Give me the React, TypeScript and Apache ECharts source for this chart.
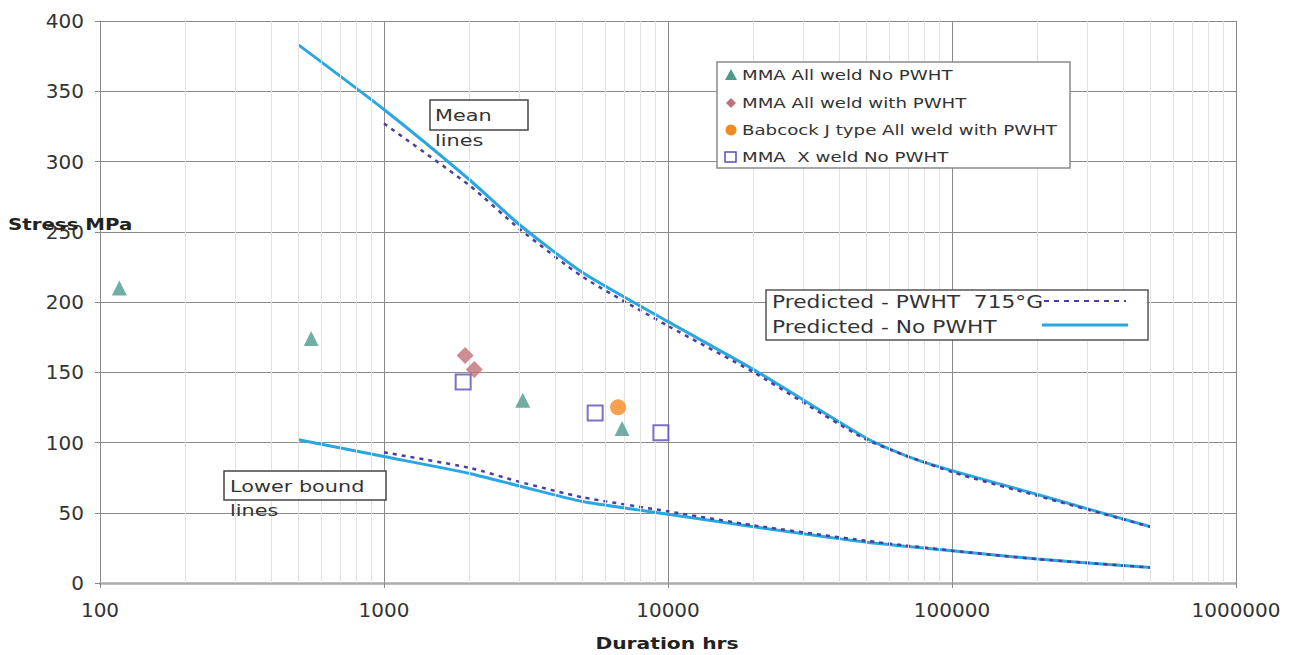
import React, { useEffect, useRef } from "react";
import * as echarts from "echarts";

// ---- Data ----
const xTicks = [100, 1000, 10000, 100000, 1000000];
const yTicks = [0, 50, 100, 150, 200, 250, 300, 350, 400];

const triDur = [117, 554, 3080, 6890];
const triStress = [210, 174, 130, 110];

const diaDur = [1930, 2080];
const diaStress = [162, 152];

const babDur = [6670];
const babStress = [125];

const sqDur = [1900, 5540, 9440];
const sqStress = [143, 121, 107];

const meanNoDur = [500, 1000, 2000, 3000, 5000, 10000, 20000, 50000, 70000, 100000, 200000, 500000];
const meanNoStress = [383, 337, 287, 255, 221, 186, 152, 103, 90, 80, 63, 40];

const meanPwDur = [1000, 2000, 3000, 5000, 10000, 20000, 50000, 100000, 200000, 500000];
const meanPwStress = [327, 283, 252, 218, 183, 150, 102, 79, 62, 40];

const lowNoDur = [500, 1000, 2000, 3000, 5000, 10000, 20000, 50000, 100000, 200000, 500000];
const lowNoStress = [102, 90, 78, 69, 58, 49, 40, 29, 23, 17, 11];

const lowPwDur = [1000, 2000, 3000, 5000, 10000, 20000, 50000, 100000, 200000, 500000];
const lowPwStress = [93, 82, 72, 61, 51, 41, 30, 23, 17, 11];

const scatterNames = [
  "MMA All weld No PWHT",
  "MMA All weld with PWHT",
  "Babcock J type All weld with PWHT",
  "MMA  X weld No PWHT",
];
const lineLegendNames = ["Predicted - PWHT  715°G", "Predicted - No PWHT"];

const FONT = "DejaVu Sans";
const SOLID = "#2AA7E0";
const DASH = "#4A3E9E";
const TRI = "#4E9A8B";
const DIA = "#C07078";
const BAB = "#F28A22";
const SQ = "#5A4DB8";

const zip = (xs: number[], ys: number[]) => xs.map((x, i) => [x, ys[i]]);

// minor vertical grid lines (2..9 in each decade)
const minorLines: number[] = [];
for (let d = 100; d < 1000000; d *= 10) {
  for (let m = 2; m <= 9; m++) minorLines.push(m * d);
}

const txt = (x: number, y: number, text: string, size: number, sx: number, extra: any = {}) => ({
  type: "text",
  z: 11,
  x,
  y,
  scaleX: sx,
  style: { text, fontFamily: FONT, fontSize: size, fill: "#333", verticalAlign: "middle", ...extra },
});

export default function App() {
  const ref = useRef<HTMLDivElement>(null);
  useEffect(() => {
    if (!ref.current) return;
    const chart = echarts.init(ref.current, undefined, { renderer: "svg" });
    const legendRows = [75, 103, 130, 157];
    chart.setOption({
      animation: false,
      backgroundColor: "#ffffff",
      grid: { left: 100, right: 60, top: 21, bottom: 72, containLabel: false },
      xAxis: {
        type: "log",
        logBase: 10,
        min: xTicks[0],
        max: xTicks[xTicks.length - 1],
        axisLine: { show: true, onZero: false, lineStyle: { color: "#ababab", width: 2.5 } },
        axisTick: { show: true, length: 5, lineStyle: { color: "#888" } },
        axisLabel: { color: "#333", fontFamily: FONT, fontSize: 20, margin: 17, formatter: (v: number) => String(v) },
        splitLine: { show: true, lineStyle: { color: "#8a8a8a", width: 1 } },
      },
      yAxis: {
        type: "value",
        min: yTicks[0],
        max: yTicks[yTicks.length - 1],
        interval: 50,
        axisLine: { show: true, lineStyle: { color: "#8a8a8a", width: 1 } },
        axisTick: { show: true, length: 5, lineStyle: { color: "#888" } },
        axisLabel: { color: "#333", fontFamily: FONT, fontSize: 20, margin: 16 },
        splitLine: { show: true, lineStyle: { color: "#8a8a8a", width: 1 } },
      },
      graphic: [
        // scatter legend box
        { type: "rect", z: 10, shape: { x: 717, y: 62, width: 353, height: 106 }, style: { fill: "#fff", stroke: "#8a8a8a", lineWidth: 1.5 } },
        { type: "polygon", z: 11, shape: { points: [[731, legendRows[0] - 6], [737, legendRows[0] + 5], [725, legendRows[0] + 5]] }, style: { fill: TRI } },
        { type: "polygon", z: 11, shape: { points: [[731, legendRows[1] - 5], [736, legendRows[1]], [731, legendRows[1] + 5], [726, legendRows[1]]] }, style: { fill: DIA } },
        { type: "circle", z: 11, shape: { cx: 731, cy: legendRows[2], r: 5.5 }, style: { fill: BAB } },
        { type: "rect", z: 11, shape: { x: 725, y: legendRows[3] - 5, width: 11, height: 10 }, style: { fill: "#fff", stroke: SQ, lineWidth: 1.5 } },
        ...scatterNames.map((n, i) => txt(742, legendRows[i], n, 14, 1.3)),
        // line legend box
        { type: "rect", z: 10, shape: { x: 766, y: 290, width: 382, height: 50 }, style: { fill: "#fff", stroke: "#555", lineWidth: 1.5 } },
        txt(772, 302, lineLegendNames[0], 17, 1.28),
        txt(772, 327, lineLegendNames[1], 17, 1.28),
        { type: "line", z: 11, shape: { x1: 1044, y1: 301, x2: 1126, y2: 301 }, style: { stroke: DASH, lineWidth: 2, lineDash: [5, 5] } },
        { type: "line", z: 11, shape: { x1: 1042, y1: 325, x2: 1128, y2: 325 }, style: { stroke: SOLID, lineWidth: 3 } },
        // annotation boxes
        { type: "rect", z: 10, shape: { x: 430, y: 100, width: 98, height: 30 }, style: { fill: "#fff", stroke: "#444", lineWidth: 1.5 } },
        txt(435, 115, "Mean", 16, 1.3),
        txt(435, 140, "lines", 16, 1.3),
        { type: "rect", z: 10, shape: { x: 224, y: 471, width: 162, height: 29 }, style: { fill: "#fff", stroke: "#444", lineWidth: 1.5 } },
        txt(230, 486, "Lower bound", 16, 1.3),
        txt(230, 510, "lines", 16, 1.3),
        // axis titles
        txt(8, 225, "Stress MPa", 15, 1.32, { fontWeight: "bold", fill: "#222" }),
        txt(667, 644, "Duration hrs", 15, 1.35, { fontWeight: "bold", fill: "#222", align: "center" }),
      ],
      series: [
        {
          name: "minor",
          type: "line",
          data: [],
          silent: true,
          z: 0,
          markLine: {
            silent: true,
            symbol: "none",
            label: { show: false },
            lineStyle: { color: "#e2e2e2", width: 1, type: "solid" },
            data: minorLines.map((v) => ({ xAxis: v })),
          },
        },
        { name: lineLegendNames[1], type: "line", data: zip(meanNoDur, meanNoStress), showSymbol: false, smooth: 0.2, lineStyle: { color: SOLID, width: 3 }, z: 3 },
        { name: lineLegendNames[1], type: "line", data: zip(lowNoDur, lowNoStress), showSymbol: false, smooth: 0.2, lineStyle: { color: SOLID, width: 3 }, z: 3 },
        { name: lineLegendNames[0], type: "line", data: zip(meanPwDur, meanPwStress), showSymbol: false, smooth: 0.2, lineStyle: { color: DASH, width: 2.5, type: [4, 5] }, z: 4 },
        { name: lineLegendNames[0], type: "line", data: zip(lowPwDur, lowPwStress), showSymbol: false, smooth: 0.2, lineStyle: { color: DASH, width: 2.5, type: [4, 5] }, z: 4 },
        { name: scatterNames[0], type: "scatter", data: zip(triDur, triStress), symbol: "triangle", symbolSize: 15, itemStyle: { color: TRI }, z: 5 },
        { name: scatterNames[1], type: "scatter", data: zip(diaDur, diaStress), symbol: "diamond", symbolSize: 17, itemStyle: { color: DIA }, z: 5 },
        { name: scatterNames[2], type: "scatter", data: zip(babDur, babStress), symbol: "circle", symbolSize: 16, itemStyle: { color: BAB }, z: 5 },
        { name: scatterNames[3], type: "scatter", data: zip(sqDur, sqStress), symbol: "rect", symbolSize: 15, itemStyle: { color: "#ffffff", borderColor: SQ, borderWidth: 2 }, z: 5 },
      ],
    });
    return () => chart.dispose();
  }, []);
  return <div ref={ref} style={{ width: 1296, height: 655, position: "absolute", left: 0, top: 0 }} />;
}
